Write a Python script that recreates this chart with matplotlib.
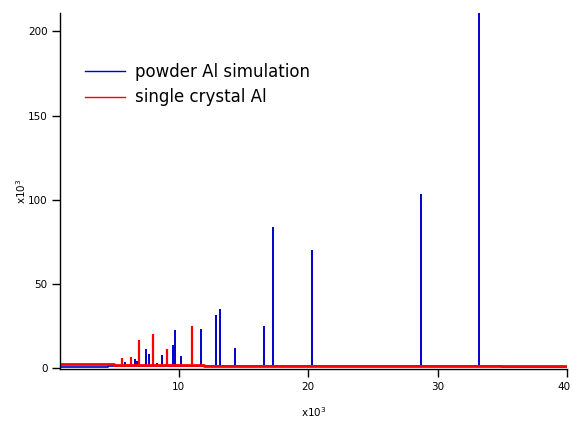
import numpy as np
import matplotlib
matplotlib.use("Agg")
import matplotlib.pyplot as plt
import matplotlib.transforms as mtransforms

# x and y both in units of 10^3
# powder Al simulation (blue): baseline pieces and peaks
powder_base_x = [0.95, 4.51, 4.51, 35.0, 35.0, 40.0]
powder_base_y = [0.4, 0.4, 1.0, 1.0, 0.5, 0.5]
powder_peak_x = [5.87, 6.62, 6.75, 7.47, 7.68, 7.99, 8.32, 8.69, 9.58, 9.71,
                 10.18, 11.70, 12.86, 13.17, 14.33, 16.57, 17.32, 20.31, 28.74, 33.20]
powder_peak_y = [3.6, 5.0, 4.0, 10.9, 8.1, 5.0, 2.8, 7.5, 13.5, 22.4,
                 7.0, 23.0, 31.5, 34.7, 11.9, 24.8, 83.8, 69.9, 103.2, 230.0]

# single crystal Al (red)
crystal_base_x = [0.95, 5.0, 5.0, 12.0, 12.0, 40.0]
crystal_base_y = [1.9, 1.9, 1.5, 1.5, 1.0, 1.0]
crystal_peak_x = [5.61, 6.29, 6.95, 8.04, 9.10, 11.05]
crystal_peak_y = [5.9, 6.5, 16.5, 19.8, 10.9, 24.8]

blue = "#0000cc"
red = "#ff0000"

fig = plt.figure(figsize=(5.72, 4.21), dpi=100)
ax = fig.add_axes([60 / 572, 1 - 369 / 421, 507 / 572, 356 / 421])

ax.plot(powder_base_x, powder_base_y, color=blue, lw=1.2, label="powder Al simulation")
ax.vlines(powder_peak_x, 0.8, powder_peak_y, color=blue, lw=1.4)
ax.plot(crystal_base_x, crystal_base_y, color=red, lw=2.0, label="single crystal Al")
ax.vlines(crystal_peak_x, 1.0, crystal_peak_y, color=red, lw=1.6)

ax.set_xlim(0.84, 40)
ax.set_ylim(-0.8, 211)
ax.set_xticks([10, 20, 30, 40])
ax.set_yticks([0, 50, 100, 150, 200])

for s in ["top", "right"]:
    ax.spines[s].set_visible(False)
ax.spines["left"].set_linewidth(1.0)
ax.spines["bottom"].set_linewidth(1.0)
ax.tick_params(direction="out", length=6, width=1, labelsize=7.5, pad=3)

# keep the last x label inside the figure
last = ax.get_xticklabels()[-1]
last.set_transform(last.get_transform() +
                   mtransforms.ScaledTranslation(-3 / 100, 0, fig.dpi_scale_trans))

ax.set_xlabel("x10$^3$", fontsize=7.5, labelpad=10)
ax.set_ylabel("x10$^3$", fontsize=7.5, labelpad=0)

leg = ax.legend(loc="upper left", bbox_to_anchor=(85 / 572, 1 - 63 / 421),
                bbox_transform=fig.transFigure, frameon=False, fontsize=12,
                handlelength=2.4, handletextpad=0.6, labelspacing=0.45, borderpad=0,
                borderaxespad=0)
for line in leg.get_lines():
    line.set_linewidth(1.0)

fig.savefig("out.png", dpi=100)
